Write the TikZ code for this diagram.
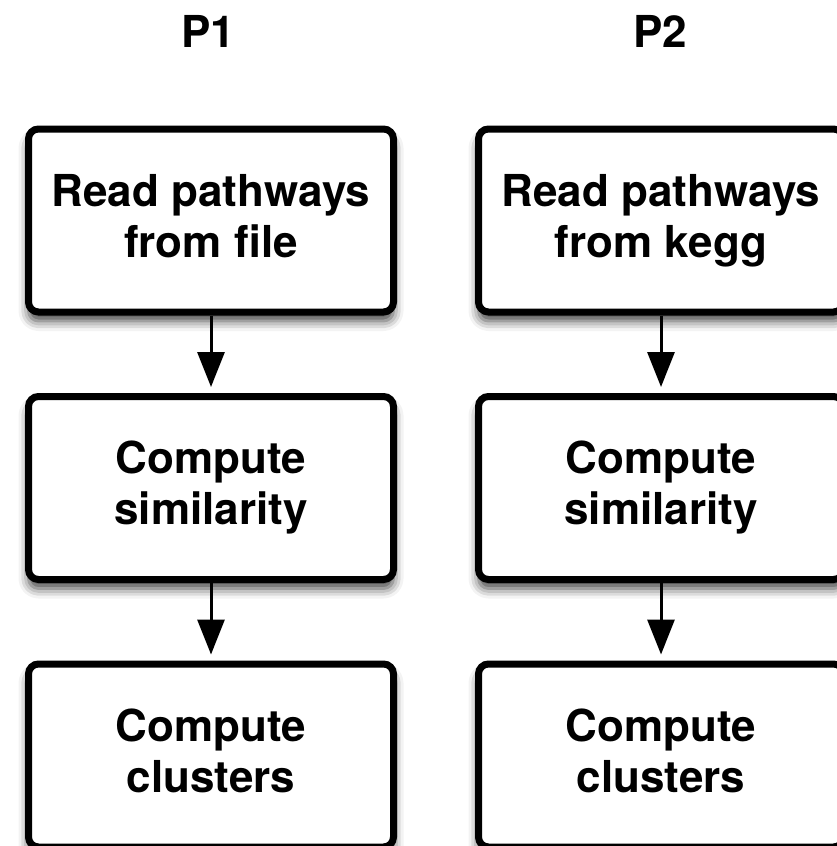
\documentclass[tikz,border=0pt]{standalone}
\usepackage{fontspec}
\setmainfont{TeX Gyre Heros}
\usetikzlibrary{arrows.meta,shadows.blur}
\begin{document}
\begin{tikzpicture}[x=1pt,y=-1pt,
  stepbox/.style={draw=black, line width=7pt, rounded corners=10pt, fill=white,
    minimum width=365pt, minimum height=183pt, align=center, inner sep=0pt,
    font=\fontsize{44}{51}\selectfont\bfseries,
    blur shadow={shadow xshift=0pt, shadow yshift=-9pt, shadow blur radius=10pt, shadow opacity=75}},
  title/.style={anchor=base, font=\fontsize{44}{51}\selectfont\bfseries},
  flow/.style={line width=3pt, -{Triangle[width=27pt,length=35pt]}, shorten >=6pt}]
\useasboundingbox (0,0) rectangle (837,846);
\node[title] (t1) at (208,47) {P1};
\node[title] (t2) at (660,47) {P2};
\node[stepbox] (a1) at (211,220.5) {Read pathways\\from file\vphantom{g}};
\node[stepbox] (a2) at (211,488) {Compute\\similarity\vphantom{g}};
\node[stepbox] (a3) at (211,755.5) {Compute\\clusters\vphantom{g}};
\node[stepbox] (b1) at (661,220.5) {Read pathways\\from kegg\vphantom{g}};
\node[stepbox] (b2) at (661,488) {Compute\\similarity\vphantom{g}};
\node[stepbox] (b3) at (661,755.5) {Compute\\clusters\vphantom{g}};
\draw[flow] (a1) -- (a2);
\draw[flow] (a2) -- (a3);
\draw[flow] (b1) -- (b2);
\draw[flow] (b2) -- (b3);
\end{tikzpicture}
\end{document}
